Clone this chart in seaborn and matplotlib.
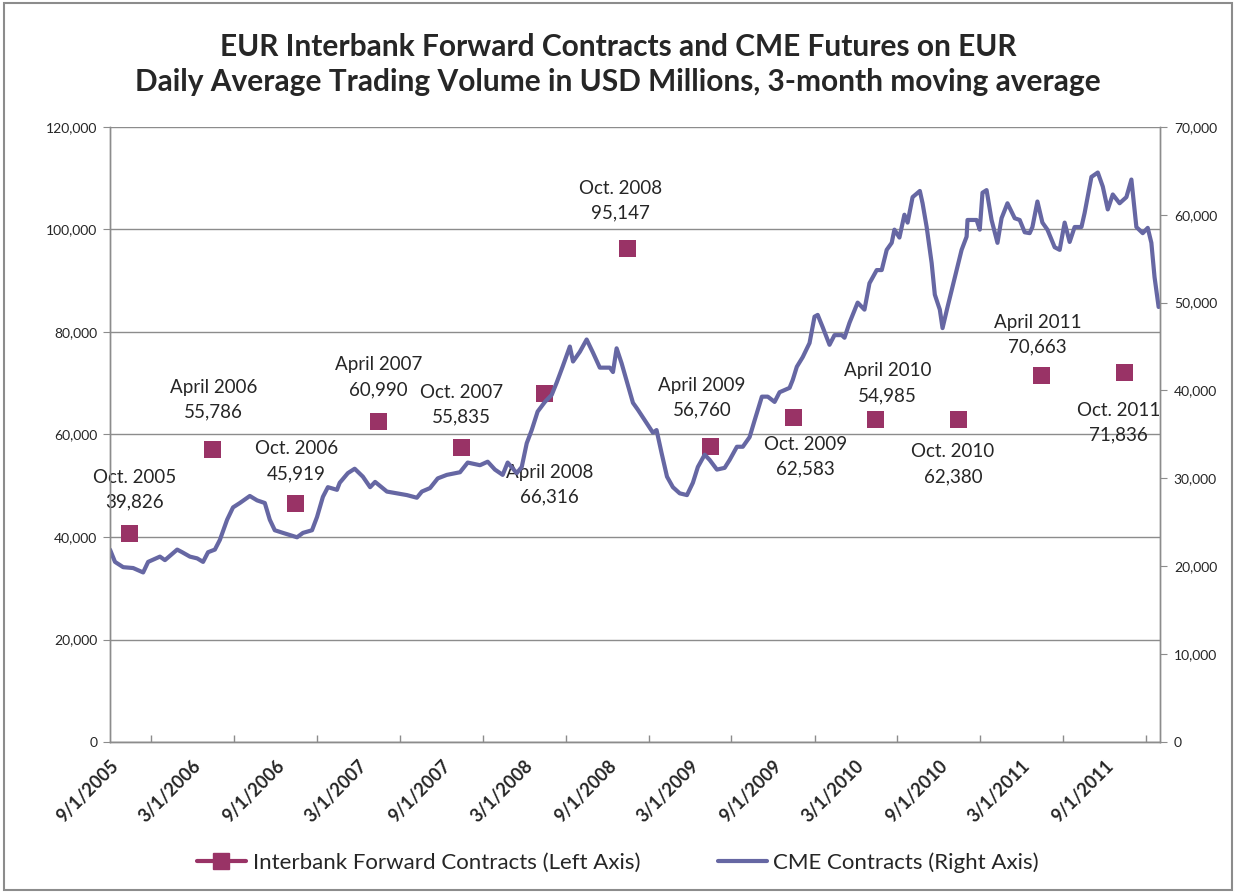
import pandas as pd
import seaborn as sns
import matplotlib.pyplot as plt
import matplotlib.dates as mdates
from matplotlib.lines import Line2D
from matplotlib.patches import Rectangle
from matplotlib.ticker import FuncFormatter, MultipleLocator

# Interbank forward contracts (left axis), semiannual survey points
ib_dates = ["2005-10-15", "2006-04-15", "2006-10-15", "2007-04-15", "2007-10-15",
            "2008-04-15", "2008-10-15", "2009-04-15", "2009-10-15", "2010-04-15",
            "2010-10-15", "2011-04-15", "2011-10-15"]
ib_values = [40600, 57000, 46600, 62600, 57400, 67900, 96200, 57600, 63400, 63000,
             63000, 71400, 72000]
ib_labels = ["Oct. 2005\n39,826", "April 2006\n55,786", "Oct. 2006\n45,919",
             "April 2007\n60,990", "Oct. 2007\n55,835", "April 2008\n66,316",
             "Oct. 2008\n95,147", "April 2009\n56,760", "Oct. 2009\n62,583",
             "April 2010\n54,985", "Oct. 2010\n62,380", "April 2011\n70,663",
             "Oct. 2011\n71,836"]

# CME contracts (right axis), 3-month moving average
cme_dates = [
    "2005-09-01", "2005-09-12", "2005-09-30", "2005-10-22", "2005-11-13", "2005-11-24",
    "2005-12-20", "2005-12-31", "2006-01-27", "2006-02-07", "2006-02-24", "2006-03-12",
    "2006-03-25", "2006-04-05", "2006-04-20", "2006-05-01", "2006-05-17", "2006-05-30",
    "2006-06-14", "2006-07-06", "2006-07-22", "2006-08-08", "2006-08-19", "2006-08-30",
    "2006-09-17", "2006-10-18", "2006-10-31", "2006-11-20", "2006-12-01", "2006-12-14",
    "2006-12-25", "2007-01-14", "2007-01-20", "2007-02-07", "2007-02-22", "2007-03-12",
    "2007-03-28", "2007-04-08", "2007-05-04", "2007-05-26", "2007-06-17", "2007-07-09",
    "2007-07-20", "2007-08-07", "2007-08-24", "2007-09-13", "2007-10-12", "2007-10-29",
    "2007-11-25", "2007-12-12", "2007-12-28", "2008-01-14", "2008-01-25", "2008-02-14",
    "2008-02-25", "2008-03-07", "2008-03-18", "2008-03-31", "2008-04-16", "2008-05-01",
    "2008-05-12", "2008-05-25", "2008-06-10", "2008-06-17", "2008-07-02", "2008-07-17",
    "2008-07-31", "2008-08-15", "2008-09-06", "2008-09-13", "2008-09-21", "2008-10-02",
    "2008-10-16", "2008-10-27", "2008-11-07", "2008-11-26", "2008-12-10", "2008-12-18",
    "2008-12-29", "2009-01-10", "2009-01-23", "2009-02-07", "2009-02-23", "2009-03-08",
    "2009-03-19", "2009-04-03", "2009-04-14", "2009-04-30", "2009-05-17", "2009-05-28",
    "2009-06-13", "2009-06-26", "2009-07-11", "2009-07-22", "2009-08-07", "2009-08-20",
    "2009-09-04", "2009-09-15", "2009-10-07", "2009-10-14", "2009-10-23", "2009-11-05",
    "2009-11-20", "2009-12-01", "2009-12-08", "2009-12-19", "2010-01-03", "2010-01-14",
    "2010-01-30", "2010-02-05", "2010-02-16", "2010-03-06", "2010-03-21", "2010-04-01",
    "2010-04-17", "2010-04-28", "2010-05-09", "2010-05-20", "2010-05-26", "2010-06-06",
    "2010-06-17", "2010-06-24", "2010-07-05", "2010-07-21", "2010-07-27", "2010-08-05",
    "2010-08-16", "2010-08-23", "2010-09-03", "2010-09-09", "2010-09-20", "2010-10-01",
    "2010-10-21", "2010-11-01", "2010-11-03", "2010-11-23", "2010-11-30", "2010-12-06",
    "2010-12-15", "2010-12-26", "2011-01-08", "2011-01-17", "2011-01-30", "2011-02-15",
    "2011-02-26", "2011-03-09", "2011-03-20", "2011-03-26", "2011-04-06", "2011-04-17",
    "2011-04-28", "2011-05-14", "2011-05-25", "2011-06-05", "2011-06-16", "2011-06-27",
    "2011-07-12", "2011-07-19", "2011-08-03", "2011-08-17", "2011-08-28", "2011-09-08",
    "2011-09-19", "2011-10-04", "2011-10-19", "2011-10-30", "2011-11-10", "2011-11-24",
    "2011-12-05", "2011-12-13", "2011-12-20", "2011-12-29"]
cme_values = [
    21900, 20500, 19900, 19800, 19300, 20500,
    21100, 20700, 21900, 21600, 21100, 20900,
    20500, 21600, 21900, 23000, 25300, 26700,
    27200, 28000, 27500, 27200, 25300, 24100,
    23800, 23300, 23800, 24100, 25600, 27900,
    29000, 28700, 29500, 30600, 31100, 30200,
    29000, 29600, 28500, 28300, 28100, 27800,
    28500, 28900, 30000, 30400, 30700, 31800,
    31500, 31900, 31000, 30400, 31800, 30600,
    31300, 34000, 35500, 37600, 38700, 39500,
    40900, 42700, 45000, 43300, 44400, 45800,
    44300, 42600, 42600, 42100, 44800, 43100,
    40600, 38600, 37800, 36300, 35200, 35500,
    32900, 30200, 29000, 28300, 28100, 29500,
    31300, 32700, 32100, 31000, 31200, 32100,
    33600, 33600, 34700, 36600, 39300, 39300,
    38700, 39800, 40300, 41200, 42700, 43800,
    45400, 48400, 48600, 47200, 45200, 46300,
    46300, 46000, 47700, 50000, 49200, 52200,
    53700, 53700, 56000, 56800, 58300, 57400,
    60000, 59100, 62000, 62700, 61300, 58600,
    54500, 50900, 49200, 47100, 49500, 51800,
    56000, 57500, 59400, 59400, 58300, 62500,
    62800, 59400, 56800, 59600, 61300, 59600,
    59400, 58000, 57900, 58600, 61500, 59100,
    58300, 56300, 56000, 59100, 56900, 58600,
    58600, 60200, 64300, 64800, 63200, 60600,
    62300, 61300, 62000, 64000, 58600, 57900,
    58500, 56800, 52900, 49500]

tick_dates = ["2005-09-01", "2006-03-01", "2006-09-01", "2007-03-01", "2007-09-01",
              "2008-03-01", "2008-09-01", "2009-03-01", "2009-09-01", "2010-03-01",
              "2010-09-01", "2011-03-01", "2011-09-01"]
tick_labels = ["9/1/2005", "3/1/2006", "9/1/2006", "3/1/2007", "9/1/2007", "3/1/2008",
               "9/1/2008", "3/1/2009", "9/1/2009", "3/1/2010", "9/1/2010", "3/1/2011",
               "9/1/2011"]

ib = pd.DataFrame({"date": pd.to_datetime(ib_dates), "value": ib_values})
cme = pd.DataFrame({"date": pd.to_datetime(cme_dates), "value": cme_values})

sns.set_style("white")
plt.rcParams["font.family"] = ["Lato", "DejaVu Sans"]

ib_color = "#993366"
cme_color = "#6667a3"
grid_color = "#8c8c8c"

fig = plt.figure(figsize=(12.36, 8.93), dpi=100)
ax = fig.add_axes([0.089, 0.169, 0.8495, 0.689])
ax2 = ax.twinx()

# gridlines on the left axis
ax.set_ylim(0, 120000)
ax.yaxis.set_major_locator(MultipleLocator(20000))
ax.grid(axis="y", color=grid_color, lw=1)
ax.set_axisbelow(True)

sns.scatterplot(data=ib, x="date", y="value", ax=ax, marker="s", s=150,
                color=ib_color, edgecolor="none", zorder=3, legend=False)
sns.lineplot(data=cme, x="date", y="value", ax=ax2, color=cme_color, lw=3,
             legend=False)

ax2.set_ylim(0, 70000)
ax2.yaxis.set_major_locator(MultipleLocator(10000))

fmt = FuncFormatter(lambda v, p: f"{int(v):,}")
ax.yaxis.set_major_formatter(fmt)
ax2.yaxis.set_major_formatter(fmt)

ax.set_xlim(pd.Timestamp("2005-09-01"), pd.Timestamp("2012-01-01"))
ax.set_xticks(pd.to_datetime(tick_dates))
ax.set_xticklabels(tick_labels, rotation=45, ha="right", rotation_mode="anchor",
                   fontweight="bold", fontsize=13)
ax.xaxis.set_minor_locator(mdates.MonthLocator(bymonth=[6, 12], bymonthday=1))
ax.tick_params(axis="x", which="major", direction="out", length=7, color=grid_color,
               width=1, pad=4)
ax.tick_params(axis="x", which="minor", direction="in", length=5, color=grid_color,
               width=1, bottom=True)
ax.tick_params(axis="y", direction="out", length=5, color=grid_color, labelsize=10,
               pad=4, left=True)
ax2.tick_params(axis="y", direction="out", length=5, color=grid_color, labelsize=10,
                pad=5, right=True)

for a in (ax, ax2):
    a.set_xlabel("")
    a.set_ylabel("")
    a.spines["top"].set_visible(False)
    for side in ("left", "bottom", "right"):
        a.spines[side].set_color(grid_color)
        a.spines[side].set_linewidth(1)

# labels next to the interbank points
label_offsets = [(5, 44), (1, 50), (1, 42), (0, 44), (0, 43), (5, -91), (-7, 48),
                 (-8, 49), (12, -40), (12, 36), (-6, -45), (-4, 41), (-6, -50)]
for d, v, txt, off in zip(ib["date"], ib["value"], ib_labels, label_offsets):
    ax.annotate(txt, xy=(d, v), xytext=off, textcoords="offset pixels",
                ha="center", va="center", fontsize=13.5, linespacing=1.55,
                zorder=5)

fig.text(0.5, 0.947, "EUR Interbank Forward Contracts and CME Futures on EUR",
         ha="center", va="center", fontsize=21.5, fontweight="bold")
fig.text(0.5, 0.908, "Daily Average Trading Volume in USD Millions, 3-month moving average",
         ha="center", va="center", fontsize=21.5, fontweight="bold")

handles = [
    Line2D([], [], color=ib_color, lw=3, marker="s", markersize=11),
    Line2D([], [], color=cme_color, lw=3),
]
fig.legend(handles, ["Interbank Forward Contracts (Left Axis)", "CME Contracts (Right Axis)"],
           loc="center", bbox_to_anchor=(0.5, 0.034), ncol=2, frameon=False,
           fontsize=16, handlelength=2.2, handletextpad=0.3, columnspacing=3.5)

fig.patches.append(Rectangle((0.003, 0.003), 0.994, 0.994, transform=fig.transFigure,
                             fill=False, edgecolor=grid_color, lw=1.5))

fig.savefig("out.png", dpi=100)
